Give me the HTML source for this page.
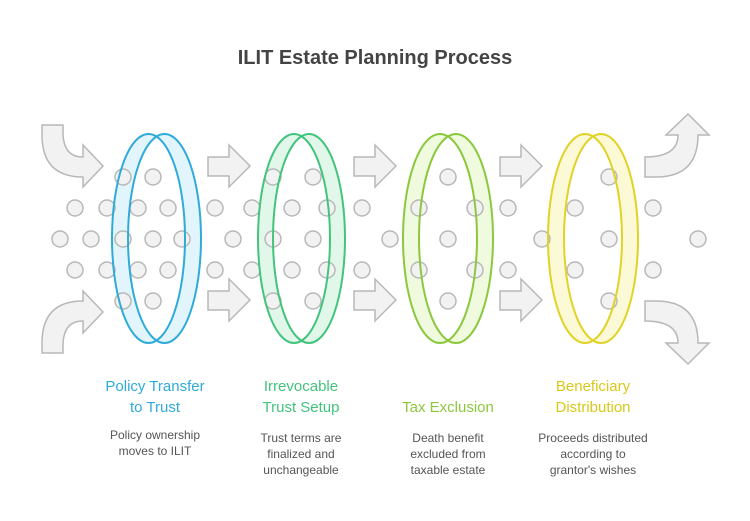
<!DOCTYPE html>
<html><head><meta charset="utf-8"><style>
html,body{margin:0;padding:0;background:#fff;}
svg{display:block;}
text{font-family:"Liberation Sans",sans-serif;}
</style></head><body>
<svg width="750" height="521" viewBox="0 0 750 521" xmlns="http://www.w3.org/2000/svg">
<rect width="750" height="521" fill="#fff"/>
<text x="375" y="64" text-anchor="middle" font-size="20" font-weight="bold" fill="#444">ILIT Estate Planning Process</text>

<g fill="#f2f2f2" stroke="#b8b8b8" stroke-width="1.5">
<path d="M42,125 L63,125 L63,132 Q63,157 83,157 L83,145 L103,166 L83,187 L83,177 Q42,177 42,135 Z"/>
<path d="M42,353 L63,353 L63,346 Q63,321 83,321 L83,333 L103,312 L83,291 L83,301 Q42,301 42,343 Z"/>
<path d="M645,177 L645,157 Q678,157 678,135 L666,135 L688,114 L709,135 L698,135 Q698,177 656,177 Z"/>
<path d="M645,301 L645,321 Q678,321 678,343 L666,343 L688,364 L709,343 L698,343 Q698,301 656,301 Z"/>
<path d="M208,157 L229,157 L229,145 L250,166 L229,187 L229,176 L208,176 Z"/>
<path d="M208,291 L229,291 L229,279 L250,300 L229,321 L229,310 L208,310 Z"/>
<path d="M354,157 L375,157 L375,145 L396,166 L375,187 L375,176 L354,176 Z"/>
<path d="M354,291 L375,291 L375,279 L396,300 L375,321 L375,310 L354,310 Z"/>
<path d="M500,157 L521,157 L521,145 L542,166 L521,187 L521,176 L500,176 Z"/>
<path d="M500,291 L521,291 L521,279 L542,300 L521,321 L521,310 L500,310 Z"/>
</g>

<!-- ring band fills (crescents only) -->
<g fill-rule="evenodd" stroke="none">
<path fill="#e3f5fc" d="M201,238.5 A36.5,104.5 0 1 1 128,238.5 A36.5,104.5 0 1 1 201,238.5 Z M185,238.5 A36.5,104.5 0 1 1 112,238.5 A36.5,104.5 0 1 1 185,238.5 Z"/>
<path fill="#e0f7ea" d="M345,238.5 A36,104.5 0 1 1 273,238.5 A36,104.5 0 1 1 345,238.5 Z M330,238.5 A36,104.5 0 1 1 258,238.5 A36,104.5 0 1 1 330,238.5 Z"/>
<path fill="#f0fadf" d="M493,238.5 A37,104.5 0 1 1 419,238.5 A37,104.5 0 1 1 493,238.5 Z M477,238.5 A37,104.5 0 1 1 403,238.5 A37,104.5 0 1 1 477,238.5 Z"/>
<path fill="#fcfad6" d="M638,238.5 A37,104.5 0 1 1 564,238.5 A37,104.5 0 1 1 638,238.5 Z M622,238.5 A37,104.5 0 1 1 548,238.5 A37,104.5 0 1 1 622,238.5 Z"/>
</g>

<g fill="#f2f2f2" stroke="#b8b8b8" stroke-width="1.5">
<circle cx="123" cy="177" r="8"/><circle cx="153" cy="177" r="8"/>
<circle cx="273" cy="177" r="8"/><circle cx="313" cy="177" r="8"/>
<circle cx="448" cy="177" r="8"/><circle cx="609" cy="177" r="8"/>
<circle cx="123" cy="301" r="8"/><circle cx="153" cy="301" r="8"/>
<circle cx="273" cy="301" r="8"/><circle cx="313" cy="301" r="8"/>
<circle cx="448" cy="301" r="8"/><circle cx="609" cy="301" r="8"/>
<circle cx="75" cy="208" r="8"/><circle cx="107" cy="208" r="8"/><circle cx="138" cy="208" r="8"/><circle cx="168" cy="208" r="8"/>
<circle cx="215" cy="208" r="8"/><circle cx="252" cy="208" r="8"/><circle cx="292" cy="208" r="8"/><circle cx="327" cy="208" r="8"/>
<circle cx="362" cy="208" r="8"/><circle cx="419" cy="208" r="8"/><circle cx="475" cy="208" r="8"/><circle cx="508" cy="208" r="8"/>
<circle cx="575" cy="208" r="8"/><circle cx="653" cy="208" r="8"/>
<circle cx="75" cy="270" r="8"/><circle cx="107" cy="270" r="8"/><circle cx="138" cy="270" r="8"/><circle cx="168" cy="270" r="8"/>
<circle cx="215" cy="270" r="8"/><circle cx="252" cy="270" r="8"/><circle cx="292" cy="270" r="8"/><circle cx="327" cy="270" r="8"/>
<circle cx="362" cy="270" r="8"/><circle cx="419" cy="270" r="8"/><circle cx="475" cy="270" r="8"/><circle cx="508" cy="270" r="8"/>
<circle cx="575" cy="270" r="8"/><circle cx="653" cy="270" r="8"/>
<circle cx="60" cy="239" r="8"/><circle cx="91" cy="239" r="8"/><circle cx="123" cy="239" r="8"/><circle cx="153" cy="239" r="8"/>
<circle cx="182" cy="239" r="8"/><circle cx="233" cy="239" r="8"/><circle cx="273" cy="239" r="8"/><circle cx="313" cy="239" r="8"/>
<circle cx="390" cy="239" r="8"/><circle cx="448" cy="239" r="8"/><circle cx="542" cy="239" r="8"/><circle cx="609" cy="239" r="8"/>
<circle cx="698" cy="239" r="8"/>
</g>

<g stroke-width="2" fill="none">
<ellipse cx="164.5" cy="238.5" rx="36.5" ry="104.5" stroke="#2fabd9"/>
<ellipse cx="148.5" cy="238.5" rx="36.5" ry="104.5" stroke="#2fabd9"/>
<ellipse cx="309" cy="238.5" rx="36" ry="104.5" stroke="#43c47d"/>
<ellipse cx="294" cy="238.5" rx="36" ry="104.5" stroke="#43c47d"/>
<ellipse cx="456" cy="238.5" rx="37" ry="104.5" stroke="#8cc83e"/>
<ellipse cx="440" cy="238.5" rx="37" ry="104.5" stroke="#8cc83e"/>
<ellipse cx="601" cy="238.5" rx="37" ry="104.5" stroke="#e2d228"/>
<ellipse cx="585" cy="238.5" rx="37" ry="104.5" stroke="#e2d228"/>
</g>

<g font-size="15" text-anchor="middle">
<text x="155" y="391" fill="#2fabd9">Policy Transfer</text>
<text x="155" y="412" fill="#2fabd9">to Trust</text>
<text x="301" y="391" fill="#43c47d">Irrevocable</text>
<text x="301" y="412" fill="#43c47d">Trust Setup</text>
<text x="448" y="412" fill="#8cc83e">Tax Exclusion</text>
<text x="593" y="391" fill="#d9c81a">Beneficiary</text>
<text x="593" y="412" fill="#d9c81a">Distribution</text>
</g>
<g font-size="12" text-anchor="middle" fill="#555">
<text x="155" y="439">Policy ownership</text>
<text x="155" y="455">moves to ILIT</text>
<text x="301" y="442">Trust terms are</text>
<text x="301" y="458">finalized and</text>
<text x="301" y="474">unchangeable</text>
<text x="448" y="442">Death benefit</text>
<text x="448" y="458">excluded from</text>
<text x="448" y="474">taxable estate</text>
<text x="593" y="442">Proceeds distributed</text>
<text x="593" y="458">according to</text>
<text x="593" y="474">grantor's wishes</text>
</g>
</svg>
</body></html>
